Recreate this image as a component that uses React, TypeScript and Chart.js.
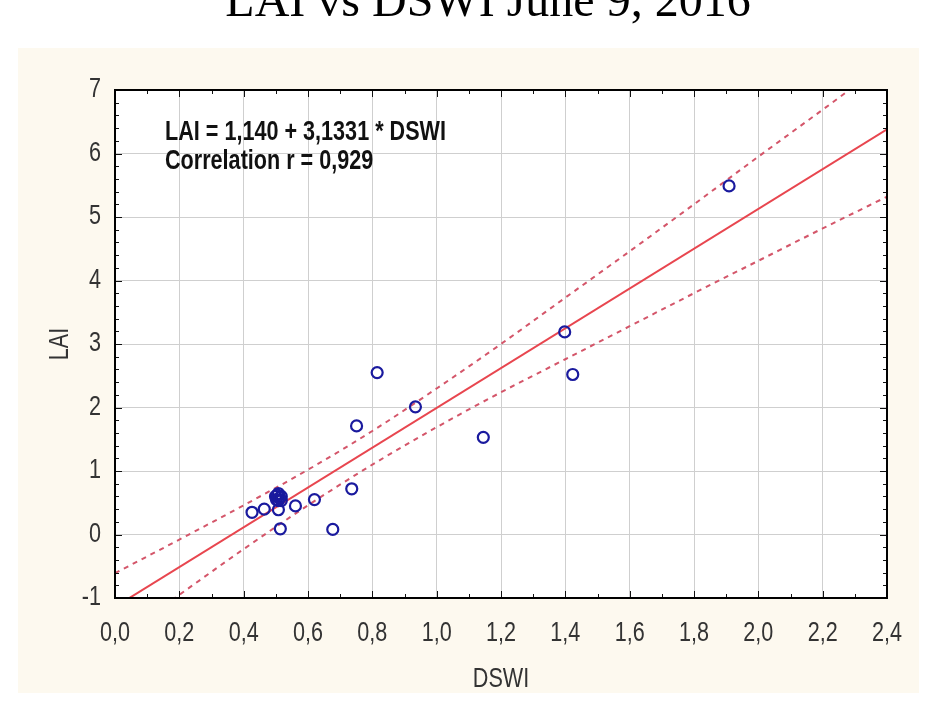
import React, { useEffect, useRef } from "react";
import { Chart, registerables } from "chart.js";

Chart.register(...registerables);

// Observations: DSWI (x) and LAI (y)
const DSWI = [
  0.499, 0.517, 0.508, 0.508, 0.502, 0.517, 0.505, 0.512, 0.508,
  0.426, 0.464, 0.561, 0.62, 0.514, 0.677,
  0.736, 0.751, 0.815, 0.934, 1.145, 1.398, 1.423, 1.909,
];
const LAI = [
  0.6, 0.6, 0.535, 0.646, 0.55, 0.535, 0.62, 0.58, 0.39,
  0.35, 0.4, 0.45, 0.55, 0.09, 0.08,
  0.72, 1.71, 2.55, 2.01, 1.53, 3.19, 2.52, 5.49,
];

// Fitted line coefficients
const INTERCEPT = -1.14;
const SLOPE = 3.1331;
const FIT_X = [0, 2.4];

// 95% confidence band around the fit
const BAND_X = [0, 0.2, 0.4, 0.6, 0.8, 1.0, 1.2, 1.4, 1.6, 1.8, 2.0, 2.2, 2.4];
const BAND_UPPER = [-0.61, -0.08, 0.46, 1.02, 1.63, 2.3, 3.0, 3.73, 4.46, 5.2, 5.95, 6.69, 7.44];
const BAND_LOWER = [-1.68, -0.95, -0.23, 0.46, 1.1, 1.69, 2.24, 2.76, 3.28, 3.8, 4.31, 4.82, 5.32];

const TITLE = "LAI vs DSWI June 9, 2016";
const EQUATION = "LAI = 1,140 + 3,1331 * DSWI";
const CORRELATION = "Correlation r = 0,929";
const X_TITLE = "DSWI";
const Y_TITLE = "LAI";

const SANS = '"Liberation Sans", Arial, sans-serif';
const NARROW_X = 0.8; // horizontal squeeze for the narrow label face

const fmtX = (v: number) => v.toFixed(1).replace(".", ",");
const fmtY = (v: number) => String(v);

function narrowText(ctx: any, text: string, x: number, y: number, align: string, sx = NARROW_X) {
  ctx.save();
  ctx.translate(x, y);
  ctx.scale(sx, 1);
  ctx.textAlign = align;
  ctx.fillText(text, 0, 0);
  ctx.restore();
}

const decor = {
  id: "decor",
  beforeDraw(chart: any) {
    const { ctx, chartArea: a, width, height } = chart;
    ctx.save();
    ctx.fillStyle = "#ffffff";
    ctx.fillRect(0, 0, width, height);
    ctx.fillStyle = "#fdf9ef";
    ctx.fillRect(18, 48, 901, 645);
    ctx.fillStyle = "#ffffff";
    ctx.fillRect(a.left, a.top, a.right - a.left, a.bottom - a.top);
    ctx.restore();
  },
  afterDraw(chart: any) {
    const { ctx, chartArea: a, scales } = chart;
    const xs = scales.x;
    const ys = scales.y;
    ctx.save();

    // tick marks on all four sides, pointing inward
    ctx.strokeStyle = "#111";
    ctx.lineWidth = 1;
    ctx.beginPath();
    for (let i = 0; i <= 24; i++) {
      const px = Math.round(xs.getPixelForValue(i * 0.1)) + 0.5;
      const len = i % 2 === 0 ? 7 : 4;
      ctx.moveTo(px, a.bottom);
      ctx.lineTo(px, a.bottom - len);
      ctx.moveTo(px, a.top);
      ctx.lineTo(px, a.top + len);
    }
    for (let i = 0; i <= 40; i++) {
      const py = Math.round(ys.getPixelForValue(-1 + i * 0.2)) + 0.5;
      const len = i % 5 === 0 ? 7 : 4;
      ctx.moveTo(a.left, py);
      ctx.lineTo(a.left + len, py);
      ctx.moveTo(a.right, py);
      ctx.lineTo(a.right - len, py);
    }
    ctx.stroke();

    // frame
    ctx.strokeStyle = "#000";
    ctx.lineWidth = 2;
    ctx.strokeRect(a.left, a.top, a.right - a.left, a.bottom - a.top);

    // tick labels
    ctx.fillStyle = "#333";
    ctx.font = "27px " + SANS;
    ctx.textBaseline = "middle";
    xs.ticks.forEach((t: any) => {
      narrowText(ctx, fmtX(t.value), xs.getPixelForValue(t.value), 634, "center");
    });
    ys.ticks.forEach((t: any) => {
      narrowText(ctx, fmtY(t.value), 101, ys.getPixelForValue(t.value), "right");
    });

    // axis titles
    narrowText(ctx, X_TITLE, (a.left + a.right) / 2, 680, "center");
    ctx.save();
    ctx.translate(61, (a.top + a.bottom) / 2);
    ctx.rotate(-Math.PI / 2);
    narrowText(ctx, Y_TITLE, 0, 0, "center");
    ctx.restore();

    // regression statistics
    ctx.font = "bold 27px " + SANS;
    ctx.fillStyle = "#111";
    narrowText(ctx, EQUATION, 165, 133, "left", 0.8);
    narrowText(ctx, CORRELATION, 165, 162, "left", 0.8);

    // title
    ctx.fillStyle = "#000";
    ctx.font = '48px "Liberation Serif", "Times New Roman", serif';
    ctx.textAlign = "center";
    ctx.textBaseline = "alphabetic";
    ctx.fillText(TITLE, 488, 16);
    ctx.restore();
  },
};

export default function App() {
  const ref = useRef<HTMLCanvasElement | null>(null);

  useEffect(() => {
    if (!ref.current) return;
    const points = DSWI.map((x, i) => ({ x, y: LAI[i] }));
    const fit = FIT_X.map((x) => ({ x, y: INTERCEPT + SLOPE * x }));
    const upper = BAND_X.map((x, i) => ({ x, y: BAND_UPPER[i] }));
    const lower = BAND_X.map((x, i) => ({ x, y: BAND_LOWER[i] }));

    const chart = new Chart(ref.current, {
      type: "scatter",
      data: {
        datasets: [
          {
            label: "LAI",
            data: points,
            order: 0,
            pointStyle: "circle",
            pointRadius: 5.5,
            pointBorderWidth: 2.2,
            borderColor: "#1a1a9e",
            backgroundColor: "rgba(0,0,0,0)",
          },
          {
            type: "line",
            label: "fit",
            data: fit,
            order: 1,
            borderColor: "#e8464f",
            borderWidth: 2,
            pointRadius: 0,
            showLine: true,
          },
          {
            type: "line",
            label: "upper",
            data: upper,
            order: 2,
            borderColor: "#d4566a",
            borderWidth: 2,
            borderDash: [5, 5],
            pointRadius: 0,
            cubicInterpolationMode: "monotone",
            showLine: true,
          },
          {
            type: "line",
            label: "lower",
            data: lower,
            order: 2,
            borderColor: "#d4566a",
            borderWidth: 2,
            borderDash: [5, 5],
            pointRadius: 0,
            cubicInterpolationMode: "monotone",
            showLine: true,
          },
        ],
      },
      options: {
        responsive: false,
        animation: false,
        layout: { padding: { top: 90, right: 55, left: 0, bottom: 0 } },
        plugins: {
          legend: { display: false },
          tooltip: { enabled: false },
          title: { display: false },
        },
        scales: {
          x: {
            type: "linear",
            min: 0,
            max: 2.4,
            afterFit: (s: any) => {
              s.height = 119;
            },
            ticks: { stepSize: 0.2, display: false, autoSkip: false },
            grid: { color: "#cfcfcf", lineWidth: 1, drawTicks: false },
            border: { display: false },
          },
          y: {
            type: "linear",
            min: -1,
            max: 7,
            afterFit: (s: any) => {
              s.width = 115;
            },
            ticks: { stepSize: 1, display: false, autoSkip: false },
            grid: { color: "#cfcfcf", lineWidth: 1, drawTicks: false },
            border: { display: false },
          },
        },
      },
      plugins: [decor],
    });
    return () => chart.destroy();
  }, []);

  return (
    <div style={{ position: "absolute", left: 0, top: 0, width: 942, height: 717, background: "#fff" }}>
      <canvas ref={ref} width={942} height={717} style={{ display: "block" }} />
    </div>
  );
}
